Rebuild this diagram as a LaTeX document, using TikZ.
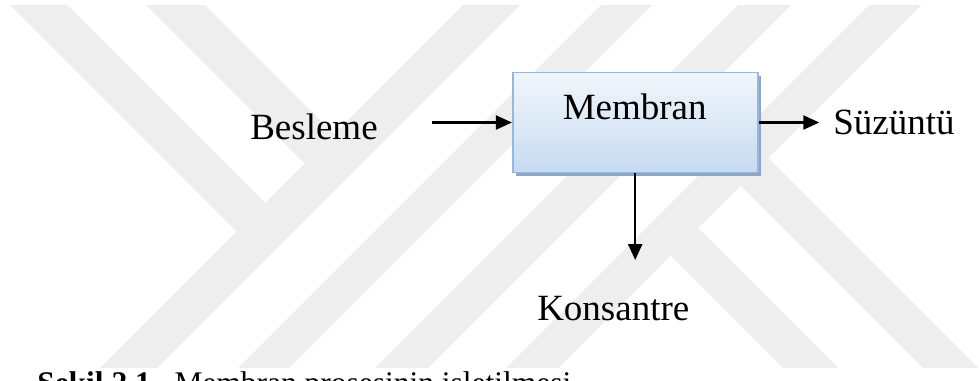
\documentclass[tikz,border=0pt]{standalone}
\usepackage{fontspec}
\setmainfont{Liberation Serif}
\usetikzlibrary{arrows.meta,shadows}
\definecolor{wm}{HTML}{EEEEEE}
\definecolor{boxline}{HTML}{95B8E1}
\definecolor{boxtop}{HTML}{FAFCFE}
\definecolor{boxmid}{HTML}{DDE9F6}
\definecolor{boxbot}{HTML}{B9D2ED}
\definecolor{shadowc}{HTML}{8DA7C7}
\pgfdeclareverticalshading{memshade}{100bp}{color(0bp)=(boxbot); color(12bp)=(boxbot); color(50bp)=(boxmid); color(88bp)=(boxtop); color(100bp)=(boxtop)}
\begin{document}
\begin{tikzpicture}[x=0.75pt,y=-0.75pt,
  lbl/.style={inner sep=0pt, font=\fontsize{27.75}{33}\selectfont},
  captxt/.style={inner sep=0pt, font=\fontsize{23.6}{28}\selectfont},
  arr/.style={line width=1.7pt, -{Triangle[length=12pt,width=10.5pt]}},
  membox/.style={rectangle, draw=boxline, line width=1.2pt,
    shading=memshade,
    minimum width=183.75pt, minimum height=74.7pt, inner sep=0pt,
    drop shadow={shadow xshift=2.25pt, shadow yshift=-2.6pt, fill=shadowc, opacity=1}},
  wmark/.style={fill=wm, draw=none}]
\useasboundingbox (0,0) rectangle (980,381);
\fill[white] (0,0) rectangle (980,381);
% watermark
\begin{scope}
\clip (0,6) rectangle (980,367);
\fill[wmark] (478,-10) -- (535,-10) -- (125,400) -- (68,400) -- cycle;
\fill[wmark] (-15,-20) -- (42,-20) -- (271,209) -- (242.5,237.5) -- cycle;
\fill[wmark] (121,-20) -- (180,-20) -- (340,140) -- (310.5,169.5) -- cycle;
\fill[wmark] (616,-10) -- (667,-10) -- (257,400) -- (206,400) -- cycle;
\fill[wmark] (753,-10) -- (806,-10) -- (396,400) -- (343,400) -- cycle;
\fill[wmark] (884,-10) -- (936,-10) -- (526,400) -- (474,400) -- cycle;
\fill[wmark] (735,180) -- (762.5,152.5) -- (1060,450) -- (1005,450) -- cycle;
\fill[wmark] (665,250) -- (692.5,222.5) -- (920,450) -- (865,450) -- cycle;
\end{scope}
% box
\node[membox] (box) at (635.2,122.5) {};
\node[lbl, anchor=base] (mem) at (634.7,120) {Membran};
% labels
\node[lbl, anchor=base west] (bes) at (250,139) {Besleme};
\node[lbl, anchor=base west] (suz) at (833,135) {Süzüntü};
\node[lbl, anchor=base west] (kon) at (537,320) {Konsantre};
\node[captxt, anchor=base west] (caption) at (37,393) {\textbf{Şekil 2.1.}\hspace{0.5em}Membran prosesinin işletilmesi};
% connectors
\coordinate (fs) at (431.7,122.5);
\coordinate (se) at (819.3,122.5);
\coordinate (ke) at (635.2,260);
\draw[arr] (fs) -- (box.west);
\draw[arr] (box.east) -- (se);
\draw[arr] (box.south) -- (ke);
\end{tikzpicture}
\end{document}
